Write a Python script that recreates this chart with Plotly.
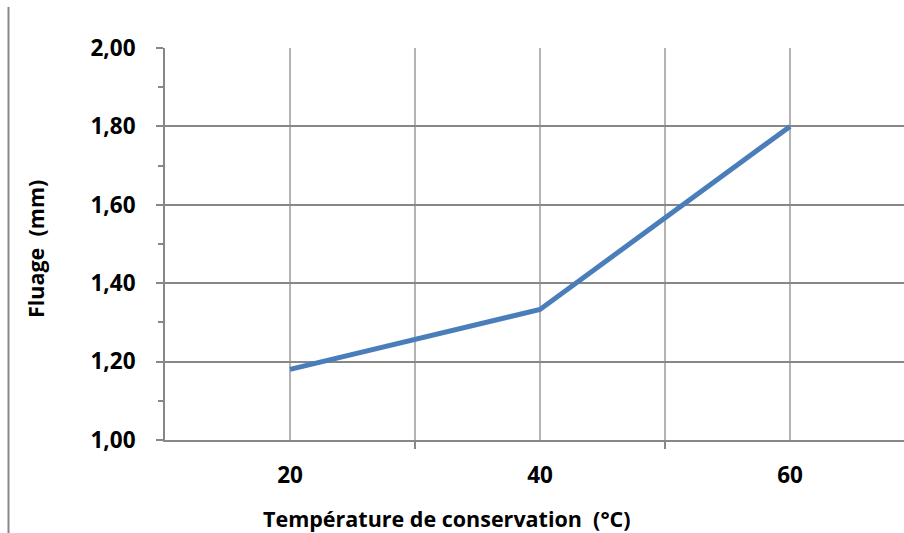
import plotly.graph_objects as go

# Creep measured against storage temperature
temperatures = [20, 40, 60]
fluage_mm = [1.18, 1.333, 1.80]

y_tick_vals = [1.0, 1.2, 1.4, 1.6, 1.8, 2.0]
y_tick_text = ["1,00", "1,20", "1,40", "1,60", "1,80", "2,00"]
x_label_vals = [20, 40, 60]
x_label_text = ["20", "40", "60"]
x_boundary_vals = [30, 50]

W, H = 904, 533
L, R, T, B = 165, 0, 48, 93
px_per_unit = 12.5
x_min = 10
x_max = x_min + (W - L - R) / px_per_unit

FONT = "Open Sans"
FS = 21.5
TICK_FS = 22.5
axis_grey = "#878787"
light_grey = "#b4b4b4"

fig = go.Figure()
fig.add_trace(go.Scatter(
    x=temperatures, y=fluage_mm, mode="lines",
    line=dict(color="#4a7ebb", width=5),
    hoverinfo="skip", showlegend=False,
))

fig.update_xaxes(
    range=[x_min, x_max],
    tickvals=x_label_vals, ticktext=x_label_text,
    ticks="", showgrid=True, gridcolor=light_grey, gridwidth=2,
    showline=True, linecolor=axis_grey, linewidth=2,
    zeroline=False,
    tickfont=dict(family=FONT, size=TICK_FS, color="black", weight="bold"),
    ticklabelstandoff=14,
    minor=dict(tickvals=x_boundary_vals, ticks="outside", ticklen=7,
               tickcolor=axis_grey, tickwidth=2,
               showgrid=True, gridcolor=light_grey, gridwidth=2),
)
fig.update_yaxes(
    range=[1.0, 2.0],
    tickvals=y_tick_vals, ticktext=y_tick_text,
    ticks="outside", ticklen=7, tickcolor=axis_grey, tickwidth=2,
    showgrid=True, gridcolor=axis_grey, gridwidth=1.5,
    showline=True, linecolor=axis_grey, linewidth=2,
    zeroline=False,
    tickfont=dict(family=FONT, size=TICK_FS, color="black", weight="bold"),
    ticklabelstandoff=16,
    minor=dict(dtick=0.1, tick0=1.0, ticks="outside", ticklen=5,
               tickcolor=axis_grey, tickwidth=2, showgrid=False),
)

fig.add_annotation(
    text="Température de conservation  (°C)", xref="paper", yref="paper",
    x=(447 - L) / (W - L - R), y=-(518 - (H - B)) / (H - T - B),
    xanchor="center", yanchor="middle", showarrow=False,
    font=dict(family=FONT, size=FS, color="black", weight="bold"),
)
fig.add_annotation(
    text="Fluage  (mm)", xref="paper", yref="paper",
    x=-(L - 35) / (W - L - R), y=1 - (249 - T) / (H - T - B),
    xanchor="center", yanchor="middle", showarrow=False, textangle=-90,
    font=dict(family=FONT, size=FS, color="black", weight="bold"),
)

# left border of the chart frame
fig.add_shape(
    type="line", xref="paper", yref="paper",
    x0=-(L - 8.5) / (W - L - R), x1=-(L - 8.5) / (W - L - R),
    y0=-(H - B) / (H - T - B), y1=1 + (T - 7) / (H - T - B),
    line=dict(color="#888888", width=2),
)

fig.update_layout(
    width=W, height=H,
    margin=dict(l=L, r=R, t=T, b=B),
    paper_bgcolor="white", plot_bgcolor="white",
    showlegend=False,
)

fig.write_html("out.html")
